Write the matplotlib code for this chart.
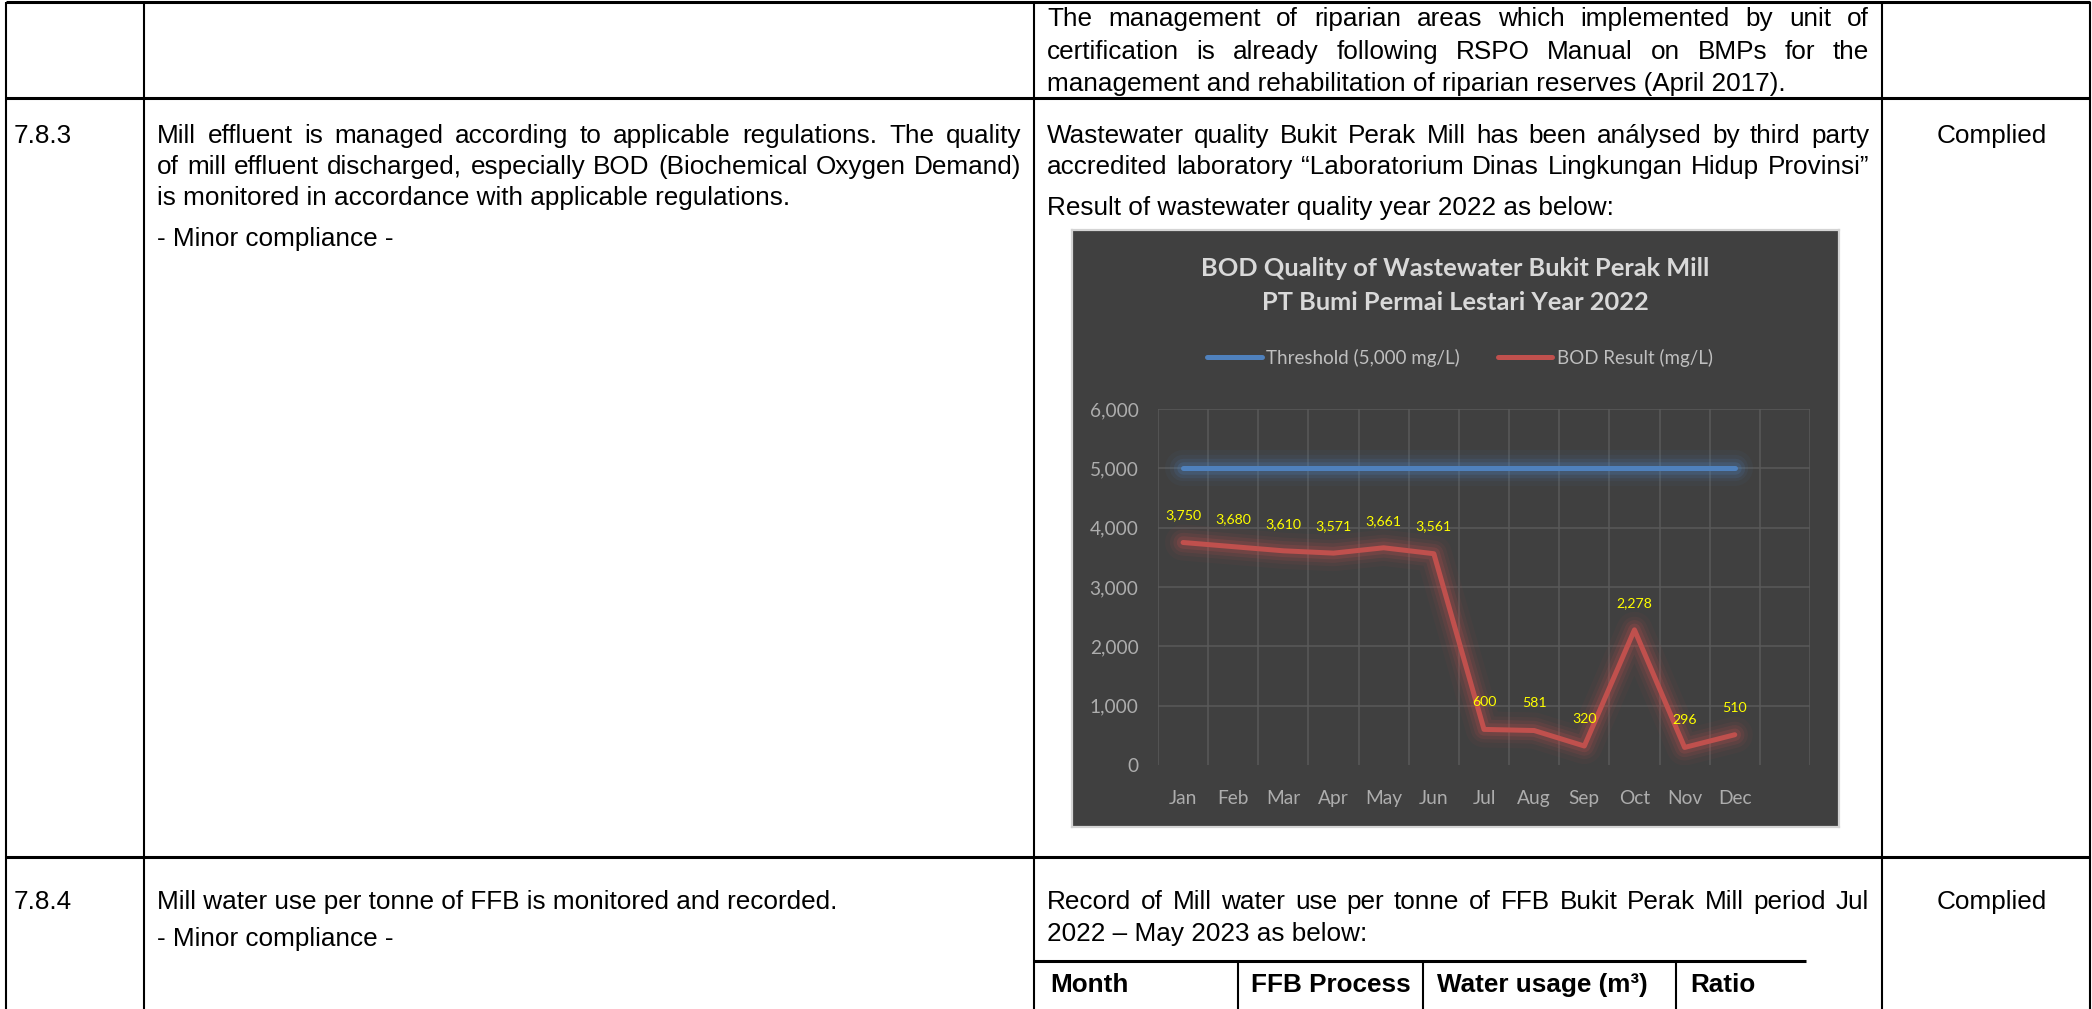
import numpy as np
import matplotlib
matplotlib.use("Agg")
import matplotlib.pyplot as plt

# ---- chart data ----
months = ["Jan", "Feb", "Mar", "Apr", "May", "Jun", "Jul", "Aug", "Sep", "Oct", "Nov", "Dec"]
bod_result = [3750, 3680, 3610, 3571, 3661, 3561, 600, 581, 320, 2278, 296, 510]
threshold = [5000, 5000, 5000, 5000, 5000, 5000, 5000, 5000, 5000, 5000, 5000, 5000]
y_ticks = [0, 1000, 2000, 3000, 4000, 5000, 6000]
chart_title = ["BOD Quality of Wastewater Bukit Perak Mill", "PT Bumi Permai Lestari Year 2022"]
legend_labels = ["Threshold (5,000 mg/L)", "BOD Result (mg/L)"]

# ---- document text ----
top_finding = ["The management of riparian areas which implemented by unit of",
               "certification is already following RSPO Manual on BMPs for the",
               "management and rehabilitation of riparian reserves (April 2017)."]
req_783 = ["Mill effluent is managed according to applicable regulations. The quality",
           "of mill effluent discharged, especially BOD (Biochemical Oxygen Demand)",
           "is monitored in accordance with applicable regulations.",
           "- Minor compliance -"]
find_783 = ["Wastewater quality Bukit Perak Mill has been análysed by third party",
            "accredited laboratory \u201cLaboratorium Dinas Lingkungan Hidup Provinsi\u201d",
            "Result of wastewater quality year 2022 as below:"]
req_784 = ["Mill water use per tonne of FFB is monitored and recorded.",
           "- Minor compliance -"]
find_784 = ["Record of Mill water use per tonne of FFB Bukit Perak Mill period Jul",
            "2022 \u2013 May 2023 as below:"]
water_header = ["Month", "FFB Process", "Water usage (m\u00b3)", "Ratio"]

W, H = 2092, 1009
fig = plt.figure(figsize=(W / 100, H / 100), dpi=100)
fig.patch.set_facecolor("white")
page = fig.add_axes([0, 0, 1, 1])
page.set_xlim(0, W)
page.set_ylim(H, 0)
page.axis("off")
renderer = fig.canvas.get_renderer()

DOC = dict(family=["Liberation Sans", "DejaVu Sans"], fontsize=18.8, color="black")
BOLD = dict(DOC, fontweight="bold")


def width_of(s, style):
    t = page.text(0, 0, s, **style)
    w = t.get_window_extent(renderer).width
    t.remove()
    return w


def line_left(x, y, s, style=DOC):
    page.text(x, y, s, ha="left", va="baseline", **style)


def line_justified(x0, x1, y, s, style=DOC):
    words = s.split(" ")
    widths = [width_of(w, style) for w in words]
    space = width_of("a a", style) - 2 * width_of("a", style)
    gap = (x1 - x0 - sum(widths)) / (len(words) - 1)
    gap = max(gap, 0.7 * space)
    x = x0
    for w, wd in zip(words, widths):
        page.text(x, y, w, ha="left", va="baseline", **style)
        x += wd + gap


# ---- table grid ----
thick, thin = 2.2, 1.5
for yy in (2, 98, 857):
    page.plot([6, 2090], [yy, yy], color="black", lw=thick, solid_capstyle="butt")
for xx in (6, 144, 1034, 1882, 2090):
    page.plot([xx, xx], [2, H], color="black", lw=thin, solid_capstyle="butt")

c2 = (157, 1021)
c3 = (1047, 1869)
c4_mid = 1992

# top row
line_justified(*c3, 26, top_finding[0])
line_justified(*c3, 59, top_finding[1])
line_left(c3[0], 91, top_finding[2])

# 7.8.3 row
line_left(14, 143, "7.8.3")
line_justified(*c2, 143, req_783[0])
line_justified(*c2, 174, req_783[1])
line_left(c2[0], 205, req_783[2])
line_left(c2[0], 246, req_783[3])
line_justified(*c3, 143, find_783[0])
line_justified(*c3, 174, find_783[1])
line_left(c3[0], 215, find_783[2])
page.text(c4_mid, 143, "Complied", ha="center", va="baseline", **DOC)

# 7.8.4 row
line_left(14, 909, "7.8.4")
line_left(c2[0], 909, req_784[0])
line_left(c2[0], 946, req_784[1])
line_justified(*c3, 909, find_784[0])
line_left(c3[0], 941, find_784[1])
page.text(c4_mid, 909, "Complied", ha="center", va="baseline", **DOC)

# small water-use table header
page.plot([1034, 1806], [961, 961], color="black", lw=thick, solid_capstyle="butt")
for xx in (1238, 1423, 1676):
    page.plot([xx, xx], [961, H], color="black", lw=thin, solid_capstyle="butt")
for xx, lab in zip((1050, 1251, 1437, 1690), water_header):
    line_left(xx, 992, lab, BOLD)


# ---- embedded Excel-style chart ----
def px_axes(x0, y0, x1, y1):
    return fig.add_axes([x0 / W, 1 - y1 / H, (x1 - x0) / W, (y1 - y0) / H])


box = px_axes(1072, 230, 1839, 827)
box.set_facecolor("#404040")
box.set_xticks([])
box.set_yticks([])
for sp in box.spines.values():
    sp.set_color("#d4d4d4")
    sp.set_linewidth(1.6)

ax = px_axes(1158, 409, 1810, 765)
ax.patch.set_alpha(0)
xs = np.arange(len(months))
blue, red = "#4f81bd", "#c0504d"

# soft glow under both series
for lw, a in [(26, 0.05), (19, 0.08), (14, 0.13), (9, 0.2)]:
    ax.plot(xs, threshold, color=blue, lw=lw, alpha=a,
            solid_capstyle="round", solid_joinstyle="round")
    ax.plot(xs, bod_result, color=red, lw=lw, alpha=a,
            solid_capstyle="round", solid_joinstyle="round")
h1, = ax.plot(xs, threshold, color=blue, lw=3.6, solid_capstyle="round")
h2, = ax.plot(xs, bod_result, color=red, lw=3.6,
              solid_capstyle="round", solid_joinstyle="round")

for i, v in enumerate(bod_result):
    ax.annotate(f"{v:,}", (i, v), xytext=(0, 19.5), textcoords="offset points",
                ha="center", va="center", color="#ffff00", fontsize=10.2, family="Lato")

ax.set_xlim(-0.5, 12.5)
ax.set_ylim(0, 6000)
ax.set_xticks(xs, months)
ax.set_xticks(np.arange(-0.5, 13), minor=True)
ax.set_yticks(y_ticks, [f"{v:,}" for v in y_ticks])
ax.grid(which="minor", axis="x", color="#5a5a5a", lw=1.1)
ax.grid(which="major", axis="y", color="#5a5a5a", lw=1.1)
ax.get_ygridlines()[0].set_visible(False)
ax.set_axisbelow(True)
ax.tick_params(which="both", length=0)
ax.tick_params(axis="x", pad=18, labelsize=13.8, labelcolor="#adadad")
ax.tick_params(axis="y", pad=14, labelsize=13.8, labelcolor="#adadad")
for lab in ax.get_xticklabels() + ax.get_yticklabels():
    lab.set_family("Lato")
for sp in ax.spines.values():
    sp.set_visible(False)

for txt, yc in zip(chart_title, (268, 303)):
    box.text(1455.5, yc, txt, transform=page.transData, ha="center", va="center",
             family="Lato", fontweight="bold", fontsize=18.3, color="#d9d9d9")

ax.legend([h1, h2], legend_labels, loc="center", bbox_to_anchor=(1460, 358),
          bbox_transform=page.transData, ncol=2, frameon=False,
          handlelength=2.9, handletextpad=0.25, columnspacing=2.0,
          prop={"family": "Lato", "size": 13.5}, labelcolor="#bfbfbf")

fig.savefig("out.png", dpi=100)
